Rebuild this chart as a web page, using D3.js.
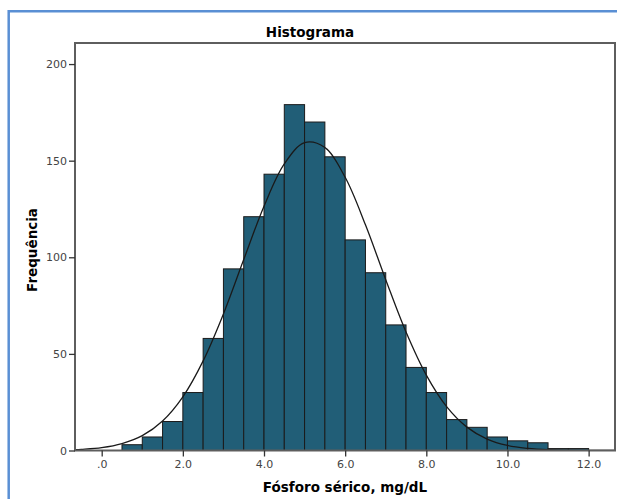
<!DOCTYPE html>
<html>
<head>
<meta charset="utf-8">
<script src="https://cdn.jsdelivr.net/npm/d3@7"></script>
<style>
  body { margin: 0; background: #fff; }
  text { font-family: "DejaVu Sans", sans-serif; }
</style>
</head>
<body>
<div id="chart"></div>
<script>
// histogram bins (width 0.5) and counts
const binStart = [0.5,1.0,1.5,2.0,2.5,3.0,3.5,4.0,4.5,5.0,5.5,6.0,6.5,7.0,7.5,8.0,8.5,9.0,9.5,10.0,10.5,11.0,11.5]
const counts   = [3,7,15,30,58,94,121,143,179,170,152,109,92,65,43,30,16,12,7,5,4,1,1]
const binWidth = 0.5

// fitted normal curve
const curveX = [-0.66,-0.5,0,0.5,1,1.5,2,2.5,3,3.5,4,4.5,5,5.5,6,6.5,7,7.5,8,8.5,9,9.5,10,10.5,11,11.5,12,12.5,12.65]
const curveY = [0.4,0.6,1.5,3.6,7.7,15.3,27.8,46.4,70.7,98.8,126.4,148.3,159.3,156.8,141.4,116.8,88.4,61.3,39.0,22.7,12.1,5.9,2.6,1.1,0.4,0.15,0.05,0.01,0.01]

const yTicks = [0,50,100,150,200]
const xTicks = [0,2,4,6,8,10,12]
const xTickLabels = [".0","2.0","4.0","6.0","8.0","10.0","12.0"]

const W = 617, H = 499
const plot = {left: 75, right: 615, top: 43, bottom: 450.5}

const svg = d3.select("#chart").append("svg")
  .attr("width", W).attr("height", H)

// blue outer frame (left + top only visible)
svg.append("path")
  .attr("d", `M8.7,${H} L8.7,11.2 L${W},11.2`)
  .attr("fill", "none").attr("stroke", "#5a8fd4").attr("stroke-width", 2.5)

const x = d3.scaleLinear().domain([-0.658, 12.65]).range([plot.left, plot.right])
const y = d3.scaleLinear().domain([0, 210.9]).range([plot.bottom, plot.top])

svg.append("clipPath").attr("id", "clip")
  .append("rect").attr("x", plot.left).attr("y", plot.top)
  .attr("width", plot.right - plot.left).attr("height", plot.bottom - plot.top)

// bars
svg.append("g").selectAll("rect")
  .data(counts)
  .join("rect")
  .attr("x", (d, i) => x(binStart[i]))
  .attr("width", (d, i) => x(binStart[i] + binWidth) - x(binStart[i]))
  .attr("y", d => y(d))
  .attr("height", d => y(0) - y(d))
  .attr("fill", "#215e77")
  .attr("stroke", "#1b1b1b")
  .attr("stroke-width", 1)

// normal curve
svg.append("path")
  .datum(curveX.map((v, i) => [v, curveY[i]]))
  .attr("clip-path", "url(#clip)")
  .attr("d", d3.line().x(d => x(d[0])).y(d => y(d[1])).curve(d3.curveCatmullRom))
  .attr("fill", "none")
  .attr("stroke", "#1a1a1a")
  .attr("stroke-width", 1.3)

// plot frame
svg.append("rect")
  .attr("x", plot.left).attr("y", plot.top)
  .attr("width", plot.right - plot.left).attr("height", plot.bottom - plot.top)
  .attr("fill", "none").attr("stroke", "#5e5e5e").attr("stroke-width", 2)

// axes
const yAxis = svg.append("g").attr("transform", `translate(${plot.left},0)`)
  .call(d3.axisLeft(y).tickValues(yTicks).tickSize(6).tickPadding(2))
const xAxis = svg.append("g").attr("transform", `translate(0,${plot.bottom})`)
  .call(d3.axisBottom(x).tickValues(xTicks).tickSize(6).tickPadding(4)
    .tickFormat((d, i) => xTickLabels[i]))

for (const g of [xAxis, yAxis]) {
  g.select(".domain").remove()
  g.selectAll(".tick line").attr("stroke", "#333").attr("stroke-width", 1.3)
  g.selectAll(".tick text").attr("fill", "#444").style("font-size", "11px")
    .style("font-family", "DejaVu Sans, sans-serif")
}

// titles
svg.append("text")
  .attr("x", 310).attr("y", 37)
  .attr("text-anchor", "middle")
  .style("font-size", "13.5px").style("font-weight", "bold")
  .text("Histograma")

svg.append("text")
  .attr("x", 345).attr("y", 492)
  .attr("text-anchor", "middle")
  .style("font-size", "13.5px").style("font-weight", "bold")
  .text("Fósforo sérico, mg/dL")

svg.append("text")
  .attr("transform", "translate(37,250) rotate(-90)")
  .attr("text-anchor", "middle")
  .style("font-size", "13.5px").style("font-weight", "bold")
  .text("Frequência")
</script>
</body>
</html>
